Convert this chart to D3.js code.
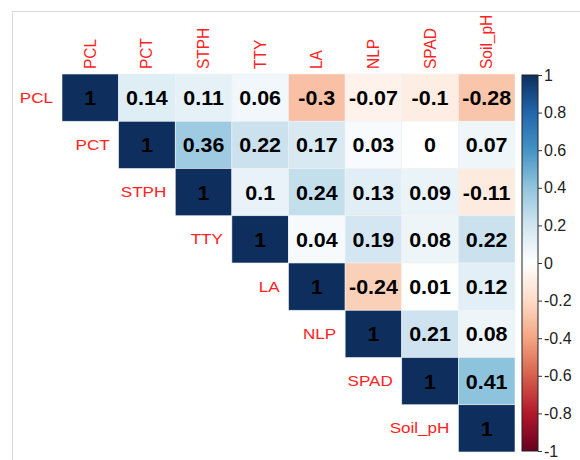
<!DOCTYPE html>
<html>
<head>
<meta charset="utf-8">
<script src="https://cdn.jsdelivr.net/npm/d3@7"></script>
<style>
  body { margin: 0; background: #fff; }
  svg { display: block; font-family: 'Liberation Sans', Arial, sans-serif; }
</style>
</head>
<body>
<svg id="chart" width="580" height="460"></svg>
<script>
const vars = ['PCL', 'PCT', 'STPH', 'TTY', 'LA', 'NLP', 'SPAD', 'Soil_pH']

// upper triangle, row by row starting at the diagonal
const rPCL = [1, 0.14, 0.11, 0.06, -0.3, -0.07, -0.1, -0.28]
const rPCT = [1, 0.36, 0.22, 0.17, 0.03, 0, 0.07]
const rSTPH = [1, 0.1, 0.24, 0.13, 0.09, -0.11]
const rTTY = [1, 0.04, 0.19, 0.08, 0.22]
const rLA = [1, -0.24, 0.01, 0.12]
const rNLP = [1, 0.21, 0.08]
const rSPAD = [1, 0.41]
const rSoil = [1]
const rows = [rPCL, rPCT, rSTPH, rTTY, rLA, rNLP, rSPAD, rSoil]

const barTicks = [-1, -0.8, -0.6, -0.4, -0.2, 0, 0.2, 0.4, 0.6, 0.8, 1]
const palette = ['#67001F', '#B2182B', '#D6604D', '#F4A582', '#FDDBC7', '#FFFFFF',
  '#D1E5F0', '#92C5DE', '#4393C3', '#2166AC', '#0E2F5E']

const svg = d3.select('#chart')

// light frame around the plot
svg.append('rect')
  .attr('x', 12.5).attr('y', 11.5)
  .attr('width', 700).attr('height', 600)
  .attr('fill', 'none').attr('stroke', '#d9d9d9')

const x = d3.scaleBand().domain(vars).range([62, 515])
const y = d3.scaleBand().domain(vars).range([74, 452])
const color = d3.scaleLinear().domain(barTicks).range(palette)

const cells = []
rows.forEach((r, i) => {
  r.forEach((v, k) => cells.push({ row: vars[i], col: vars[i + k], v }))
})

const g = svg.append('g')

g.selectAll('rect.cell')
  .data(cells)
  .join('rect')
  .attr('class', 'cell')
  .attr('x', (d) => x(d.col))
  .attr('y', (d) => y(d.row))
  .attr('width', x.bandwidth())
  .attr('height', y.bandwidth())
  .attr('fill', (d) => color(d.v))
  .attr('stroke', '#eef2f6')
  .attr('stroke-width', 0.6)

g.selectAll('text.val')
  .data(cells)
  .join('text')
  .attr('class', 'val')
  .attr('transform', (d) =>
    `translate(${x(d.col) + x.bandwidth() / 2},${y(d.row) + y.bandwidth() / 2 + 7.5}) scale(1.1,1)`)
  .attr('text-anchor', 'middle')
  .attr('font-size', 19.5)
  .attr('font-weight', 'bold')
  .attr('fill', '#000')
  .text((d) => d.v)

// row labels, to the left of the diagonal
g.selectAll('text.rl')
  .data(vars)
  .join('text')
  .attr('class', 'rl')
  .attr('transform', (d) =>
    `translate(${x(d) - 9},${y(d) + y.bandwidth() / 2 + 5}) scale(1.1,1)`)
  .attr('text-anchor', 'end')
  .attr('font-size', 15.5)
  .attr('fill', '#f22')
  .text((d) => d)

// column labels, rotated
g.selectAll('text.cl')
  .data(vars)
  .join('text')
  .attr('class', 'cl')
  .attr('transform', (d) =>
    `translate(${x(d) + x.bandwidth() / 2 + 5.5},69) rotate(-90) scale(1,1.1)`)
  .attr('text-anchor', 'start')
  .attr('font-size', 15.5)
  .attr('fill', '#f22')
  .text((d) => d)

// colour bar
const cb = d3.scaleLinear().domain([-1, 1]).range([451, 75])
const grad = svg.append('defs').append('linearGradient')
  .attr('id', 'cbar').attr('x1', 0).attr('y1', 1).attr('x2', 0).attr('y2', 0)
grad.selectAll('stop')
  .data(barTicks)
  .join('stop')
  .attr('offset', (d) => (d + 1) / 2)
  .attr('stop-color', (d) => color(d))

svg.append('rect')
  .attr('x', 522).attr('y', cb(1))
  .attr('width', 16).attr('height', cb(-1) - cb(1))
  .attr('fill', 'url(#cbar)')
  .attr('stroke', '#222').attr('stroke-width', 1)

const axis = d3.axisRight(cb)
  .tickValues(barTicks)
  .tickSize(4)
  .tickPadding(2)
  .tickFormat((d) => d)

const ax = svg.append('g')
  .attr('transform', 'translate(538,0)')
  .call(axis)
ax.select('.domain').remove()
ax.selectAll('line').attr('stroke', '#333')
ax.selectAll('text')
  .attr('font-size', 16)
  .attr('fill', '#222')
  .attr('font-family', "'Liberation Sans', Arial, sans-serif")
</script>
</body>
</html>
